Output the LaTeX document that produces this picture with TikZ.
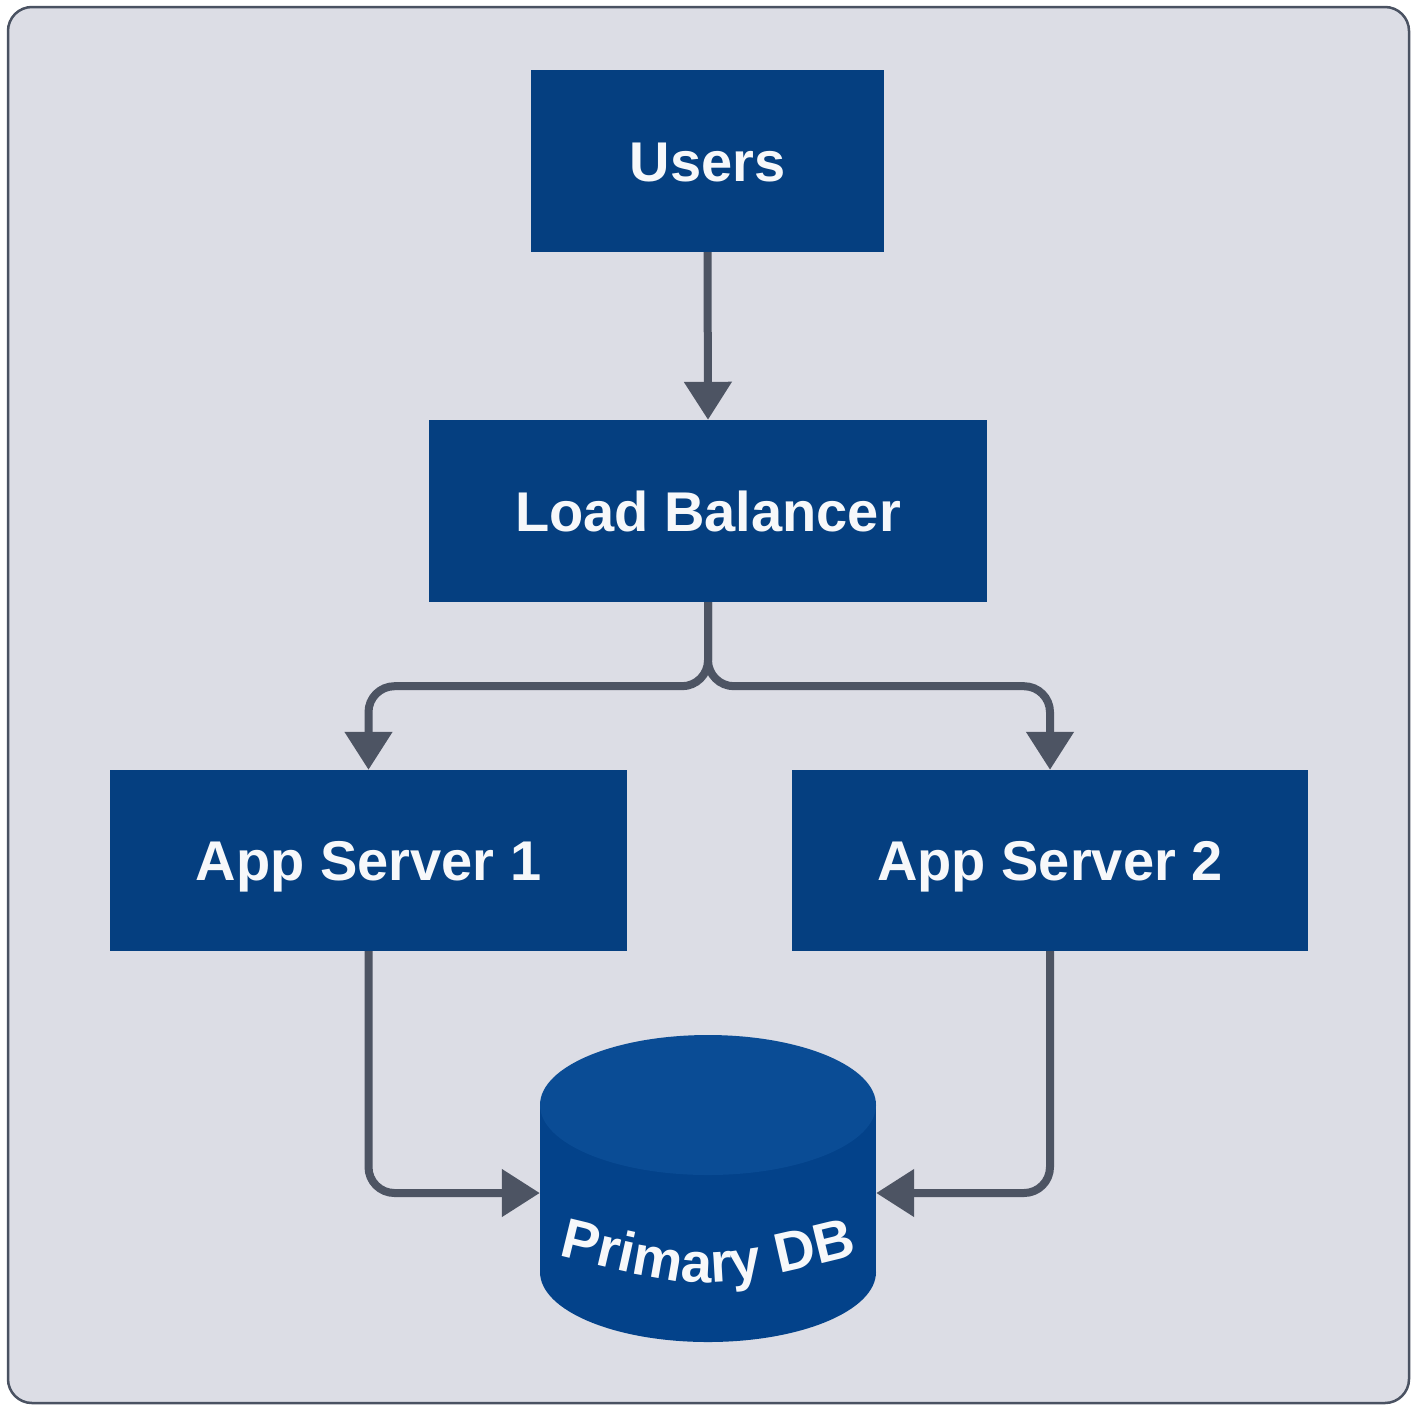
\documentclass[tikz,border=0pt]{standalone}
\usepackage{fontspec}
\setmainfont{Liberation Sans}
\usetikzlibrary{arrows.meta,decorations.text}

\definecolor{canvas}{HTML}{DCDDE5}
\definecolor{framec}{HTML}{4A5262}
\definecolor{boxblue}{HTML}{053F80}
\definecolor{dbbody}{HTML}{03428A}
\definecolor{dbtop}{HTML}{0A4C95}
\definecolor{wire}{HTML}{4D5463}
\definecolor{labelc}{HTML}{F7F8FA}

\tikzset{
  block/.style={fill=boxblue, draw=none, inner sep=0pt, text=labelc,
    font=\bfseries\fontsize{56}{60}\selectfont,
    text height=40pt, text depth=0pt},
  conn/.style={draw=wire, line width=8pt, rounded corners=26pt,
    -{Triangle[width=46pt,length=38pt]}},
}

\begin{document}
\begin{tikzpicture}[x=1pt,y=-1pt]
  \useasboundingbox (0,0) rectangle (1420,1406);
  \fill[white] (0,0) rectangle (1420,1406);

  % panel
  \draw[framec, fill=canvas, line width=2.5pt, rounded corners=24pt]
    (8,7) rectangle (1409,1403);

  % service boxes
  \node[block, minimum width=353pt, minimum height=182pt] (users) at (707.5,161) {Users};
  \node[block, minimum width=558pt, minimum height=182pt] (lb) at (708,511) {Load Balancer};
  \node[block, minimum width=517pt, minimum height=181pt] (as1) at (368.5,860.5) {App Server 1};
  \node[block, minimum width=516pt, minimum height=181pt] (as2) at (1050,860.5) {App Server 2};

  % database cylinder
  \node[minimum width=336pt, minimum height=307pt, inner sep=0pt] (db) at (708,1188.5) {};
  \fill[dbbody] (540,1105) rectangle (876,1272);
  \fill[dbbody] (708,1272) ellipse [x radius=168, y radius=70];
  \fill[dbtop] (708,1105) ellipse [x radius=168, y radius=70];
  \path[decorate, decoration={text along path, text align=center,
      text={|\color{labelc}\bfseries\fontsize{56}{60}\selectfont|Primary DB}}]
    (553,1254) .. controls (708,1292) .. (863,1254);

  % connectors
  \draw[conn] (users.south) -- (lb.north);
  \draw[conn] (lb.south) -- ++(0,84) -| (as1.north);
  \draw[conn] (lb.south) -- ++(0,84) -| (as2.north);
  \draw[conn] (as1.south) |- ([yshift=-4.5pt]db.west);
  \draw[conn] (as2.south) |- ([yshift=-4.5pt]db.east);
\end{tikzpicture}
\end{document}
